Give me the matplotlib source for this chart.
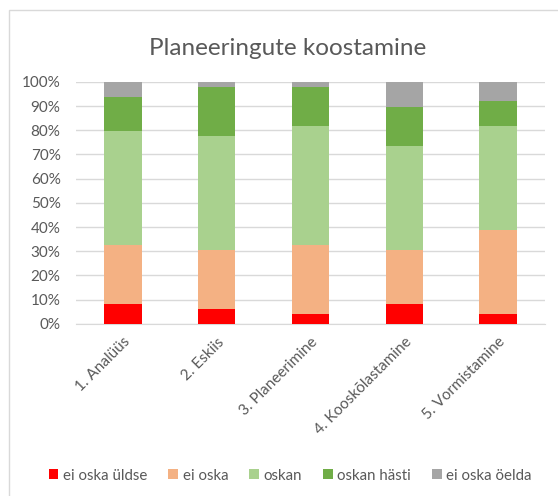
import numpy as np
import matplotlib.pyplot as plt
from matplotlib.patches import Rectangle
from matplotlib.ticker import PercentFormatter

plt.rcParams['font.family'] = ['Lato', 'DejaVu Sans']

categories = ["1. Analüüs", "2. Eskiis", "3. Planeerimine", "4. Kooskõlastamine", "5. Vormistamine"]
series_names = ["ei oska üldse", "ei oska", "oskan", "oskan hästi", "ei oska öelda"]
ei_oska_yldse = [8.2, 6.1, 4.1, 8.2, 4.1]
ei_oska = [24.5, 24.5, 28.6, 22.4, 34.7]
oskan = [46.9, 46.9, 48.9, 42.9, 42.9]
oskan_hasti = [14.3, 20.4, 16.3, 16.3, 10.2]
ei_oska_oelda = [6.1, 2.1, 2.1, 10.2, 8.1]
colors = ["#FF0000", "#F4B183", "#A9D18E", "#70AD47", "#A5A5A5"]

text_color = "#595959"
grid_color = "#D9D9D9"

fig = plt.figure(figsize=(5.58, 4.96), dpi=100)
ax = fig.add_axes([0.136, 0.347, 0.841, 0.488])

x = np.arange(len(categories))
bottom = np.zeros(len(categories))
for name, vals, col in zip(series_names,
                           [ei_oska_yldse, ei_oska, oskan, oskan_hasti, ei_oska_oelda],
                           colors):
    ax.bar(x, vals, 0.4, bottom=bottom, color=col, label=name, zorder=3)
    bottom += np.array(vals)

ax.set_xlim(-0.5, len(categories) - 0.5)
ax.set_ylim(0, 100)
ax.set_yticks(range(0, 101, 10))
ax.yaxis.set_major_formatter(PercentFormatter(decimals=0))
ax.grid(axis='y', color=grid_color, linewidth=1, zorder=0)
for s in ['top', 'right', 'left']:
    ax.spines[s].set_visible(False)
ax.spines['bottom'].set_color(grid_color)
ax.tick_params(length=0, colors=text_color, labelsize=11)
ax.tick_params(axis='y', pad=11)
ax.set_xticks(x)
ax.set_xticklabels(categories, rotation=45, ha='right', rotation_mode='anchor')
ax.tick_params(axis='x', pad=8)

fig.text(0.515, 0.903, "Planeeringute koostamine", ha='center', va='center',
         fontsize=17.5, color=text_color)

fig.legend(loc='center', bbox_to_anchor=(0.52, 0.041), ncol=5, frameon=False,
           fontsize=10.8, handlelength=0.65, handleheight=0.65, handletextpad=0.3,
           columnspacing=1.4, labelcolor=text_color)

fig.patches.append(Rectangle((0.016, -0.1), 1.2, 1.08, transform=fig.transFigure,
                             fill=False, edgecolor=grid_color, linewidth=1))

fig.savefig("out.png", dpi=100)
